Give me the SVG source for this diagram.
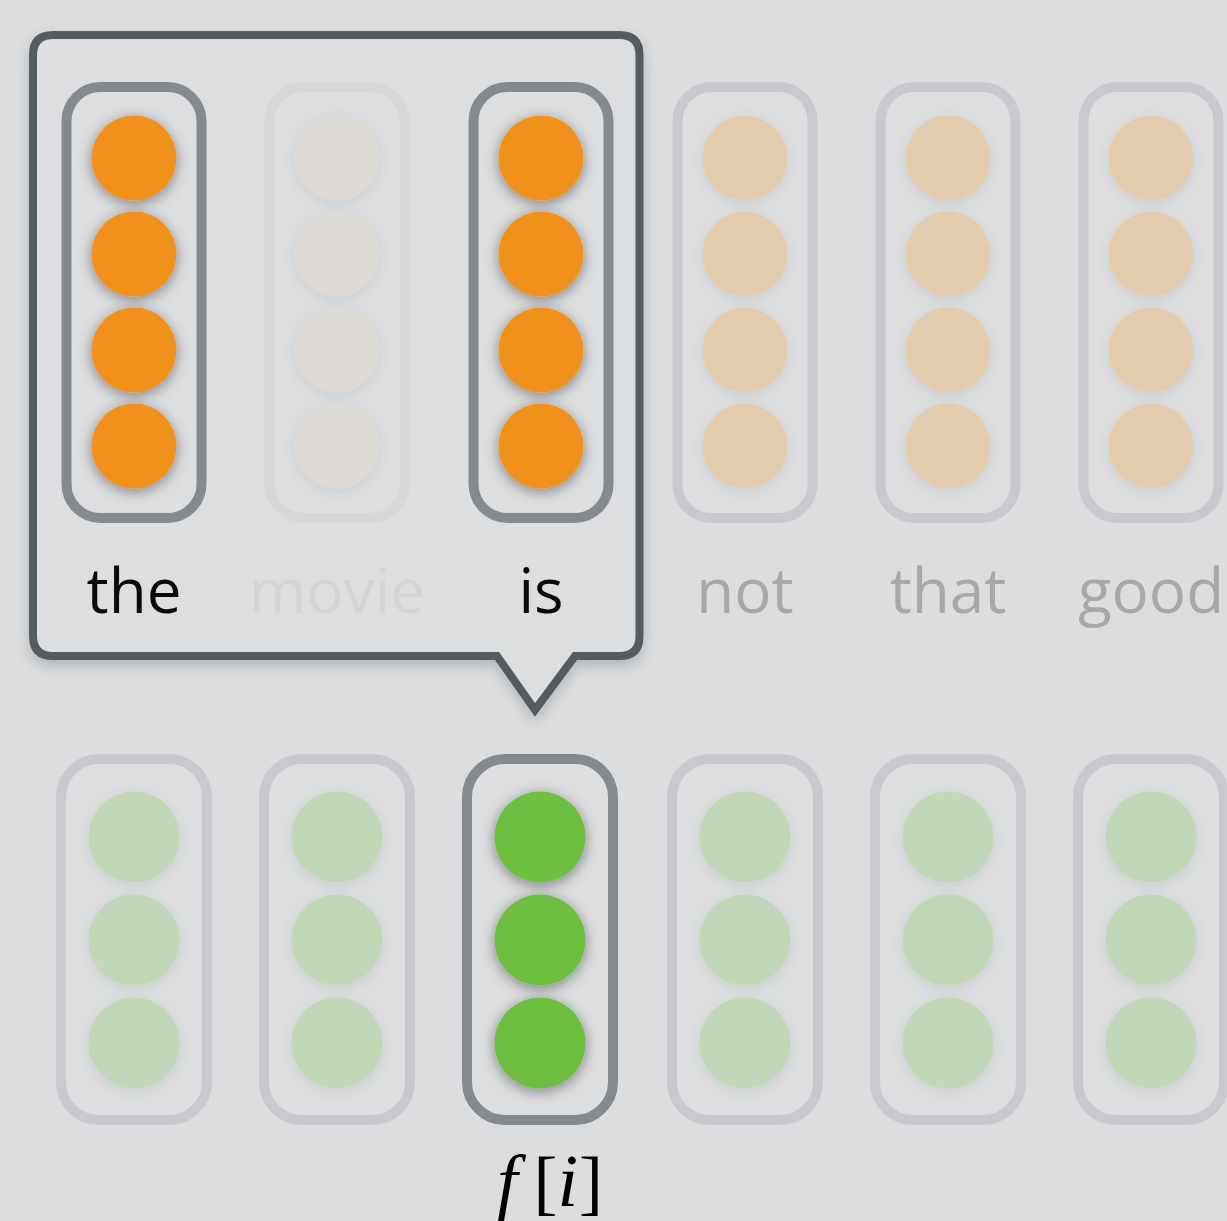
<svg xmlns="http://www.w3.org/2000/svg" width="1227" height="1221" viewBox="0 0 1227 1221">
  <defs>
    <style>
      .word { font-family: "Open Sans", "Noto Sans", "DejaVu Sans", sans-serif; font-size: 62px; text-anchor: middle; }
      .on { fill: #0a0a0a; }
      .off { fill: #a7a8aa; }
      .ghost { fill: #d3d4d6; }
      .cell { fill: #dddee0; stroke-width: 10; }
      .cell-on { stroke: #868a8f; }
      .cell-off { stroke: #c8c9cc; }
      .cell-ghost { stroke: #d6d7d9; }
      .math { font-family: "Liberation Serif", "DejaVu Serif", serif; fill: #000; font-size: 74px; }
    </style>
    <!-- soft drop shadow under each unit -->
    <filter id="dotShadow" x="-50%" y="-50%" width="200%" height="200%">
      <feGaussianBlur in="SourceAlpha" stdDeviation="7"/>
      <feOffset dy="3" result="b"/>
      <feFlood flood-color="#000" flood-opacity="0.42"/>
      <feComposite in2="b" operator="in"/>
      <feMerge><feMergeNode/><feMergeNode in="SourceGraphic"/></feMerge>
    </filter>
    <filter id="dotShadowFaint" x="-50%" y="-50%" width="200%" height="200%">
      <feGaussianBlur in="SourceAlpha" stdDeviation="7"/>
      <feOffset dy="3" result="b"/>
      <feFlood flood-color="#000" flood-opacity="0.08"/>
      <feComposite in2="b" operator="in"/>
      <feMerge><feMergeNode/><feMergeNode in="SourceGraphic"/></feMerge>
    </filter>
    <filter id="boxShadow" x="-10%" y="-10%" width="120%" height="125%">
      <feGaussianBlur in="SourceAlpha" stdDeviation="7"/>
      <feOffset dy="6" result="b"/>
      <feFlood flood-color="#000" flood-opacity="0.18"/>
      <feComposite in2="b" operator="in"/>
      <feMerge><feMergeNode/><feMergeNode in="SourceGraphic"/></feMerge>
    </filter>
    <!-- reusable unit columns -->
    <g id="col4on">
      <rect class="cell cell-on" x="-67.5" y="87" width="135" height="431" rx="34"/>
      <g filter="url(#dotShadow)" fill="#f2901a">
        <circle cx="0" cy="158" r="42.5"/>
        <circle cx="0" cy="254" r="42.5"/>
        <circle cx="0" cy="350" r="42.5"/>
        <circle cx="0" cy="446" r="42.5"/>
      </g>
    </g>
    <g id="col4off">
      <rect class="cell cell-off" x="-67.5" y="87" width="135" height="431" rx="34"/>
      <g filter="url(#dotShadowFaint)" fill="#e3cbae">
        <circle cx="0" cy="158" r="42.5"/>
        <circle cx="0" cy="254" r="42.5"/>
        <circle cx="0" cy="350" r="42.5"/>
        <circle cx="0" cy="446" r="42.5"/>
      </g>
    </g>
    <g id="col4ghost">
      <rect class="cell cell-ghost" x="-67.5" y="87" width="135" height="431" rx="34"/>
      <g filter="url(#dotShadowFaint)" fill="#ddd9d4">
        <circle cx="0" cy="158" r="42.5"/>
        <circle cx="0" cy="254" r="42.5"/>
        <circle cx="0" cy="350" r="42.5"/>
        <circle cx="0" cy="446" r="42.5"/>
      </g>
    </g>
    <g id="col3on">
      <rect class="cell cell-on" x="-73" y="759" width="146" height="361" rx="38"/>
      <g filter="url(#dotShadow)" fill="#6ebe43">
        <circle cx="0" cy="837" r="45.5"/>
        <circle cx="0" cy="940" r="45.5"/>
        <circle cx="0" cy="1043" r="45.5"/>
      </g>
    </g>
    <g id="col3off">
      <rect class="cell cell-off" x="-73" y="759" width="146" height="361" rx="38"/>
      <g filter="url(#dotShadowFaint)" fill="#c2d6b8">
        <circle cx="0" cy="837" r="45.5"/>
        <circle cx="0" cy="940" r="45.5"/>
        <circle cx="0" cy="1043" r="45.5"/>
      </g>
    </g>
  </defs>

  <rect width="1227" height="1221" fill="#dcdddf"/>

  <!-- callout grouping the window of input words -->
  <g id="window">
    <path d="M53 35 H619.5 Q639.5 35 639.5 55 V636 Q639.5 656 619.5 656 H575 L535 710 L497 656 H53 Q33 656 33 636 V55 Q33 35 53 35 Z"
          fill="#dddee0" stroke="#555b61" stroke-width="8" stroke-linejoin="miter" filter="url(#boxShadow)"/>
  </g>

  <!-- input word vectors -->
  <g id="in-the"><use href="#col4on" x="134"/><text class="word on" x="134" y="613">the</text></g>
  <g id="in-movie"><use href="#col4ghost" x="337"/><text class="word ghost" x="337" y="613">movie</text></g>
  <g id="in-is"><use href="#col4on" x="541"/><text class="word on" x="541" y="613">is</text></g>
  <g id="in-not"><use href="#col4off" x="745"/><text class="word off" x="745" y="613">not</text></g>
  <g id="in-that"><use href="#col4off" x="948"/><text class="word off" x="948" y="613">that</text></g>
  <g id="in-good"><use href="#col4off" x="1151"/><text class="word off" x="1151" y="613">good</text></g>

  <!-- output feature vectors -->
  <g id="out-0"><use href="#col3off" x="134"/></g>
  <g id="out-1"><use href="#col3off" x="337"/></g>
  <g id="out-2"><use href="#col3on" x="540"/>
    <text class="math" x="497" y="1206"><tspan font-style="italic">f</tspan><tspan dx="16" font-size="72">[</tspan><tspan font-style="italic">i</tspan><tspan dx="1" font-size="72">]</tspan></text>
  </g>
  <g id="out-3"><use href="#col3off" x="745"/></g>
  <g id="out-4"><use href="#col3off" x="948"/></g>
  <g id="out-5"><use href="#col3off" x="1151"/></g>

  <g id="connectors"></g>
</svg>
